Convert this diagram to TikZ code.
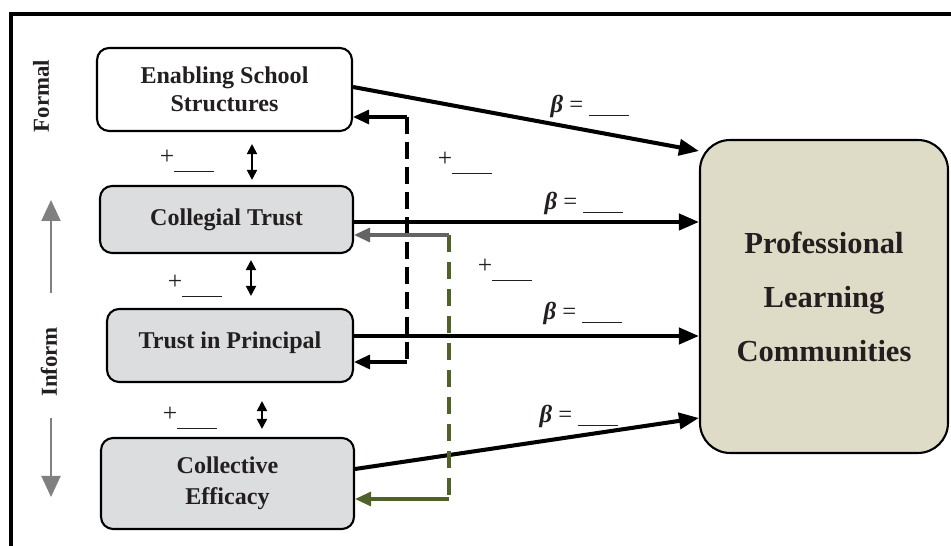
\documentclass[tikz,border=0pt]{standalone}
\usepackage{fontspec}
\setmainfont{Liberation Serif}
\usetikzlibrary{arrows.meta}
\definecolor{plcfill}{RGB}{222,219,198}
\definecolor{boxgray}{RGB}{220,221,223}
\definecolor{loopgreen}{RGB}{79,98,40}
\definecolor{loopgray}{RGB}{100,100,100}
\definecolor{inkdark}{RGB}{35,31,32}
\newcommand{\blank}{\rule[-2pt]{0.8cm}{0.5pt}}
\newcommand{\plusblank}{+\rule[-4pt]{0.8cm}{0.4pt}}

\begin{document}
\begin{tikzpicture}[x=0.02cm,y=-0.02cm,
    box/.style={draw=black, line width=1.2pt, rounded corners=0.24cm, align=center, inner sep=0pt,
      text=inkdark, font=\fontsize{13.7}{16}\selectfont\bfseries},
    mainarrow/.style={line width=2.3pt, -{Triangle[length=0.4cm,width=0.32cm]}},
    fbarrow/.style={line width=1.8pt, -{Triangle[length=0.32cm,width=0.28cm]}},
    twoway/.style={line width=1.1pt, {Triangle[length=0.2cm,width=0.2cm]}-{Triangle[length=0.2cm,width=0.2cm]}},
    sidearrow/.style={draw=gray, line width=1.1pt, -{Triangle[length=0.42cm,width=0.38cm]}, gray},
    betalabel/.style={font=\fontsize{14}{15}\selectfont, text=inkdark},
    pluslabel/.style={font=\fontsize{14.5}{16}\selectfont, text=inkdark},
    sidelabel/.style={rotate=90, font=\fontsize{13}{15}\selectfont\bfseries, text=inkdark}]

    \useasboundingbox (0,0) rectangle (951,546);

    % Frame
    \draw[line width=2.6pt] (11,546) -- (11,14) -- (951,14);

    % Boxes
    \node[box, fill=white, minimum width=5.1cm, minimum height=1.66cm] (ess) at (224.5,89.5) {Enabling School\\Structures};
    \node[box, fill=boxgray, minimum width=5.06cm, minimum height=1.34cm] (ct) at (226.5,219.5) {Collegial Trust};
    \node[box, fill=boxgray, minimum width=4.92cm, minimum height=1.46cm] (tip) at (230,345.5) {\raisebox{0.22cm}{Trust in Principal}};
    \node[box, fill=boxgray, minimum width=5.06cm, minimum height=1.82cm,
      font=\fontsize{13.7}{17.6}\selectfont\bfseries] (ce) at (227.5,483.5) {Collective\\Efficacy};
    \node[box, fill=plcfill, rounded corners=0.6cm, minimum width=4.96cm, minimum height=6.26cm,
      font=\fontsize{17.4}{30.7}\selectfont\bfseries] (plc) at (824,296.5) {Professional\\Learning\\Communities};

    % Side labels
    \node[sidelabel] (formal) at (41,96) {Formal};
    \node[sidelabel] (inform) at (49,362) {Inform};
    \coordinate (uplow) at (51,293);
    \coordinate (uptip) at (51,200);
    \coordinate (downtop) at (51,418);
    \coordinate (downtip) at (51,497);
    \draw[sidearrow] (uplow) -- (uptip);
    \draw[sidearrow] (downtop) -- (downtip);

    % Paths to PLC
    \draw[mainarrow] ([yshift=0.05cm]ess.east) -- ([yshift=2.91cm]plc.west);
    \draw[mainarrow] ([yshift=-0.05cm]ct.east) -- ([yshift=-0.05cm]ct.east -| plc.west);
    \draw[mainarrow] ([yshift=0.19cm]tip.east) -- ([yshift=0.19cm]tip.east -| plc.west);
    \draw[mainarrow] ([yshift=0.29cm]ce.east) -- ([yshift=-2.43cm]plc.west);

    % Correlations
    \draw[twoway] ([xshift=0.55cm,yshift=-0.24cm]ess.south) -- ([xshift=0.51cm,yshift=0.1cm]ct.north);
    \draw[twoway] ([xshift=0.49cm,yshift=-0.12cm]ct.south) -- ([xshift=0.42cm,yshift=0.24cm]tip.north);
    \draw[twoway] ([xshift=0.64cm,yshift=-0.36cm]tip.south) -- ([xshift=0.69cm,yshift=0.16cm]ce.north);

    % Feedback loops
    \coordinate (fbtop) at (407,117);
    \coordinate (fbbot) at (407,362);
    \draw[line width=2pt, dash pattern=on 0.34cm off 0.16cm] (fbtop) -- (fbbot);
    \draw[fbarrow] (fbtop) -- (fbtop -| ess.east);
    \draw[fbarrow] (fbbot) -- (fbbot -| tip.east);

    \coordinate (gntop) at (449,235);
    \coordinate (gnbot) at (449,499);
    \draw[loopgreen, line width=2pt, dash pattern=on 0.34cm off 0.2cm] (gntop) -- (gnbot);
    \draw[fbarrow, loopgray] (gntop) -- (gntop -| ct.east);
    \draw[fbarrow, loopgreen] (gnbot) -- (gnbot -| ce.east);

    % Coefficients
    \node[betalabel] (b1) at (590,106) {\textbf{\textit{β}} = \blank};
    \node[betalabel] (b2) at (584,203) {\textbf{\textit{β}} = \blank};
    \node[betalabel] (b3) at (583,313) {\textbf{\textit{β}} = \blank};
    \node[betalabel] (b4) at (579,416) {\textbf{\textit{β}} = \blank};

    \node[pluslabel] (p1) at (187,161) {\plusblank};
    \node[pluslabel] (p2) at (195,286) {\plusblank};
    \node[pluslabel] (p3) at (190,418) {\plusblank};
    \node[pluslabel] (p4) at (465,163) {\plusblank};
    \node[pluslabel] (p5) at (505,270) {\plusblank};

\end{tikzpicture}
\end{document}
